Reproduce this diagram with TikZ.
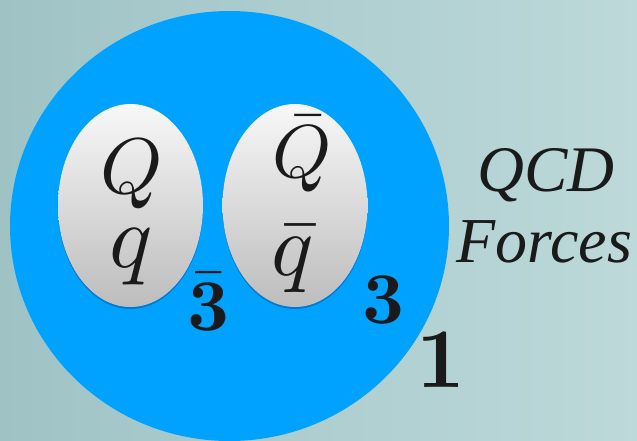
\documentclass[tikz,border=0pt]{standalone}
\usepackage[no-math]{fontspec}
\newfontfamily\timesf{Liberation Serif}
\DeclareFontShape{OT1}{cmr}{m}{n}{<->cmr10}{}
\DeclareFontShape{OT1}{cmr}{bx}{n}{<->cmbx10}{}
\DeclareFontShape{OML}{cmm}{m}{it}{<->cmmi10}{}
\DeclareFontShape{OML}{cmm}{b}{it}{<->cmmib10}{}
\DeclareFontShape{OMS}{cmsy}{m}{n}{<->cmsy10}{}
\DeclareFontShape{OMX}{cmex}{m}{n}{<->cmex10}{}
\usetikzlibrary{shapes.geometric,shadows}
\definecolor{bgleft}{HTML}{9FC3C5}
\definecolor{bgright}{HTML}{BDD9DA}
\definecolor{bigblue}{HTML}{00A2FF}
\definecolor{inkc}{HTML}{1A1A1A}
\tikzset{
  quarkbox/.style={ellipse, draw=none, inner sep=0pt,
     minimum width=145pt, minimum height=203pt,
     top color=white!97!black, bottom color=white!74!black,
     drop shadow={shadow xshift=0pt, shadow yshift=-2pt, opacity=0.25, fill=black!70!blue}},
  sym/.style={inner sep=0pt, anchor=base, text=inkc},
}
\begin{document}
\begin{tikzpicture}[x=1pt,y=-1pt]
  \shade[left color=bgleft, right color=bgright] (0,0) rectangle (637,440);
  \useasboundingbox (0,0) rectangle (637,440);
  \node[ellipse, fill=bigblue, inner sep=0pt, minimum width=439pt, minimum height=430pt] (singlet) at (229.5,226) {};
  \node[quarkbox] (left) at (130.5,205.5) {};
  \node[quarkbox] (right) at (295,205.5) {};
  \node[sym, font=\fontsize{79}{90}\selectfont] (Q) at (132,193) {$Q$};
  \node[sym, font=\fontsize{90}{95}\selectfont] (q) at (131.5,267.5) {$q$};
  \node[sym, font=\fontsize{75}{85}\selectfont] (Qb) at (302,177) {$\bar{Q}$};
  \node[sym, font=\fontsize{88}{95}\selectfont] (qb) at (293,275) {$\bar{q}$};
  \node[sym, font=\fontsize{73}{80}\selectfont] (antitrip) at (208.5,330) {$\bar{\mathbf{3}}$};
  \node[sym, font=\fontsize{73}{80}\selectfont] (trip) at (383.5,323) {$\mathbf{3}$};
  \node[sym, font=\fontsize{85}{90}\selectfont] (one) at (441,387) {$\mathbf{1}$};
  \node[sym, font=\timesf\itshape\fontsize{65}{70}\selectfont] (qcd) at (546,191) {QCD};
  \node[sym, font=\timesf\itshape\fontsize{64}{70}\selectfont] (forces) at (544.5,262) {Forces};
\end{tikzpicture}
\end{document}
